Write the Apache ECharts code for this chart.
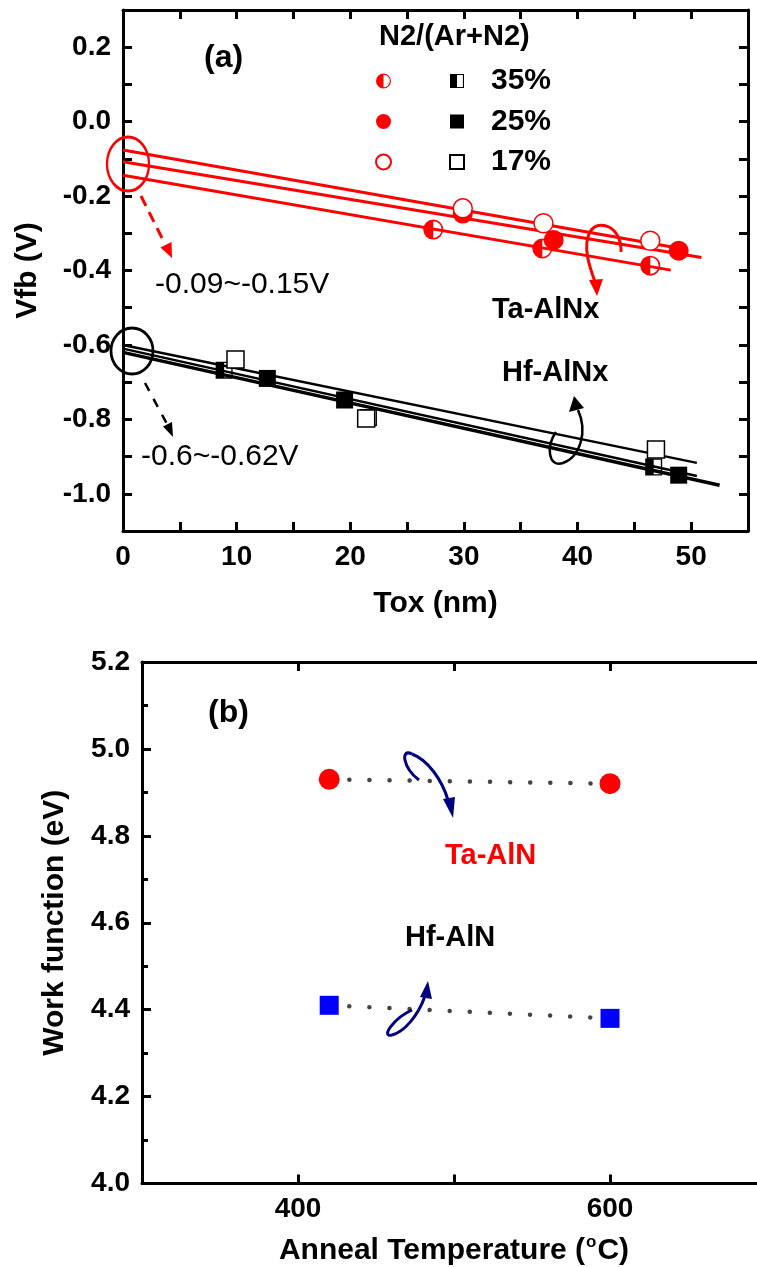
<!DOCTYPE html>
<html><head><meta charset="utf-8">
<script src="https://cdn.jsdelivr.net/npm/echarts@6/dist/echarts.min.js"></script>
<style>html,body{margin:0;padding:0;background:#fff;overflow:hidden;width:757px;height:1267px}#c{width:770px;height:1267px}</style>
</head><body><div id="c"></div>
<script>
// ---------- Panel (a): Vfb vs Tox ----------
const taX35 = [27.3, 36.9, 46.4];  const taY35 = [-0.290, -0.341, -0.387];
const taX25 = [29.9, 37.9, 48.9];  const taY25 = [-0.247, -0.318, -0.347];
const taX17 = [29.9, 37.0, 46.4];  const taY17 = [-0.233, -0.273, -0.320];
const hfX35 = [8.9, 21.6, 46.7];   const hfY35 = [-0.668, -0.795, -0.928];
const hfX25 = [12.7, 19.5, 48.9];  const hfY25 = [-0.690, -0.748, -0.950];
const hfX17 = [9.9, 21.4, 46.9];   const hfY17 = [-0.639, -0.798, -0.881];
// linear fits: [x, y] end points
const fitTa17 = [[0, -0.076], [48.2, -0.336]];
const fitTa25 = [[0, -0.108], [50.9, -0.365]];
const fitTa35 = [[0, -0.144], [48.2, -0.399]];
const fitHf17 = [[0, -0.600], [50.5, -0.917]];
const fitHf25 = [[0, -0.620], [52.5, -0.977]];
const fitHf35 = [[0, -0.610], [50.5, -0.952]];
const ratioLabels = ['35%', '25%', '17%'];
// ---------- Panel (b): work function vs anneal temperature ----------
const annealT = [420, 600];
const wfTa = [4.93, 4.92];
const wfHf = [4.41, 4.38];

const pairs = (xs, ys) => xs.map((x, i) => [x, ys[i]]);
const RED = '#ff0000', BLK = '#000000', NAVY = '#000080';
const FONT = '"Liberation Sans", Arial, sans-serif';
const halfCircle = 'path://M0 -10 A10 10 0 0 0 0 10 Z M0 -10 A10 10 0 0 1 0 10 L0 8.4 A8.4 8.4 0 0 0 0 -8.4 Z';
const halfSquare = 'path://M-10 -10 L0 -10 L0 10 L-10 10 Z M0 -10 L10 -10 L10 10 L0 10 L0 8.4 L8.4 8.4 L8.4 -8.4 L0 -8.4 Z';

const chart = echarts.init(document.getElementById('c'), null, {renderer: 'canvas'});

function axis(o) {
  const showLabel = o.labels !== false;
  return Object.assign({
    type: 'value', scale: false,
    splitLine: {show: false},
    axisLine: {show: true, onZero: false, lineStyle: {color: '#000', width: 3}},
    axisTick: {show: true, inside: true, length: 9, lineStyle: {color: '#000', width: 3}},
    axisLabel: {show: showLabel, color: '#000', fontSize: 28, fontWeight: 'bold', fontFamily: FONT, margin: 12, formatter: o.fmt},
  }, o.extra || {});
}
const fmtA_y = v => (Math.abs(Math.round(v * 10)) % 2 === 0) ? (Math.abs(v) < 1e-9 ? '0.0' : v.toFixed(1)) : '';
const fmtA_x = v => (Math.round(v) % 10 === 0) ? String(Math.round(v)) : '';
const fmtB_x = v => (v === 400 || v === 600) ? String(v) : '';
const fmtB_y = v => v.toFixed(1);

const xAxes = [
  axis({fmt: fmtA_x, extra: {gridIndex: 0, position: 'bottom', min: 0, max: 55, interval: 5,
    name: 'Tox (nm)', nameLocation: 'middle', nameGap: 58,
    nameTextStyle: {fontSize: 30, fontWeight: 'bold', fontFamily: FONT, color: '#000'}}}),
  axis({labels: false, extra: {gridIndex: 0, position: 'top', min: 0, max: 55, interval: 5}}),
  axis({fmt: fmtB_x, extra: {gridIndex: 1, position: 'bottom', min: 300, max: 700, interval: 100,
    name: 'Anneal Temperature ({s|o}C)', nameLocation: 'middle', nameGap: 50,
    nameTextStyle: {fontSize: 30, fontWeight: 'bold', fontFamily: FONT, color: '#000',
      rich: {s: {fontSize: 17, fontWeight: 'bold', fontFamily: FONT, color: '#000', verticalAlign: 'top', padding: [0, 1, 18, 1]}}}}}),
  axis({labels: false, extra: {gridIndex: 1, position: 'top', min: 300, max: 700, interval: 100}}),
];
const yAxes = [
  axis({fmt: fmtA_y, extra: {gridIndex: 0, position: 'left', min: -1.1, max: 0.3, interval: 0.1,
    name: 'Vfb (V)', nameLocation: 'middle', nameGap: 80, nameRotate: 90,
    nameTextStyle: {fontSize: 30, fontWeight: 'bold', fontFamily: FONT, color: '#000'}}}),
  axis({labels: false, extra: {gridIndex: 0, position: 'right', min: -1.1, max: 0.3, interval: 0.1}}),
  axis({fmt: fmtB_y, extra: {gridIndex: 1, position: 'left', min: 4.0, max: 5.2, interval: 0.2,
    minorTick: {show: true, splitNumber: 2, length: 6, lineStyle: {color: '#000', width: 3}},
    name: 'Work function (eV)', nameLocation: 'middle', nameGap: 72, nameRotate: 90,
    nameTextStyle: {fontSize: 30, fontWeight: 'bold', fontFamily: FONT, color: '#000'}}}),
  axis({labels: false, extra: {gridIndex: 1, position: 'right', min: 4.0, max: 5.2, interval: 0.2,
    minorTick: {show: true, splitNumber: 2, length: 6, lineStyle: {color: '#000', width: 3}}}}),
];

function fitLine(name, data, color, width) {
  return {type: 'line', name, data, xAxisIndex: 0, yAxisIndex: 0, symbol: 'none', silent: true, z: 2,
    lineStyle: {color, width, opacity: 1}, animation: false};
}
function scat(name, data, symbol, size, itemStyle) {
  return {type: 'scatter', name, data, xAxisIndex: 0, yAxisIndex: 0, symbol, symbolSize: size, z: 5,
    itemStyle: Object.assign({opacity: 1}, itemStyle), animation: false};
}

const series = [
  fitLine('fTa17', fitTa17, RED, 3),
  fitLine('fTa25', fitTa25, RED, 3),
  fitLine('fTa35', fitTa35, RED, 3),
  fitLine('fHf17', fitHf17, BLK, 2.5),
  fitLine('fHf25', fitHf25, BLK, 3.5),
  fitLine('fHf35', fitHf35, BLK, 2.5),
  scat('Ta35', pairs(taX35, taY35), halfCircle, 20, {color: RED}),
  scat('Ta25', pairs(taX25, taY25), 'circle', 20, {color: RED}),
  scat('Ta17', pairs(taX17, taY17), 'circle', 19, {color: '#fff', borderColor: RED, borderWidth: 1.5}),
  scat(ratioLabels[0], pairs(hfX35, hfY35), halfSquare, 17, {color: BLK}),
  scat(ratioLabels[1], pairs(hfX25, hfY25), 'rect', 17, {color: BLK}),
  scat(ratioLabels[2], pairs(hfX17, hfY17), 'rect', 17, {color: '#fff', borderColor: BLK, borderWidth: 1.5}),
  {type: 'line', name: 'Ta-AlN', xAxisIndex: 2, yAxisIndex: 2, data: pairs(annealT, wfTa),
    symbol: 'circle', symbolSize: 21, itemStyle: {color: RED, opacity: 1}, z: 3, animation: false,
    lineStyle: {color: '#444', width: 4.5, type: [0.1, 20], cap: 'round'}},
  {type: 'line', name: 'Hf-AlN', xAxisIndex: 2, yAxisIndex: 2, data: pairs(annealT, wfHf),
    symbol: 'rect', symbolSize: 19, itemStyle: {color: '#0000ff', opacity: 1}, z: 3, animation: false,
    lineStyle: {color: '#444', width: 4.5, type: [0.1, 20], cap: 'round'}},
];

const legendText = {fontSize: 30, fontWeight: 'bold', fontFamily: FONT, color: '#000', lineHeight: 30};
const legends = [
  {data: ['Ta35', 'Ta25', 'Ta17'], orient: 'vertical', left: 370, top: 61, itemWidth: 15, itemHeight: 15,
    itemGap: 10.5, selectedMode: false, formatter: () => ' ', textStyle: legendText},
  {data: ratioLabels, orient: 'vertical', left: 444, top: 61, itemWidth: 14, itemHeight: 14,
    itemGap: 10.5, selectedMode: false, textStyle: Object.assign({padding: [0, 0, 0, 22]}, legendText)},
];

function txt(text, x, y, font, fill, align) {
  return {type: 'text', x, y, z: 50, silent: true,
    style: {text, font, fill: fill || '#000', align: align || 'left', verticalAlign: 'middle',
      textAlign: align || 'left', textVerticalAlign: 'middle'}};
}
function bez(p, color, w) {
  return {type: 'bezierCurve', z: 40, silent: true,
    shape: {x1: p[0], y1: p[1], cpx1: p[2], cpy1: p[3], cpx2: p[4], cpy2: p[5], x2: p[6], y2: p[7]},
    style: {stroke: color, lineWidth: w, fill: null}};
}
function head(pts, color) {
  return {type: 'polygon', z: 41, silent: true, shape: {points: pts}, style: {fill: color}};
}
function ell(cx, cy, rx, ry, color) {
  return {type: 'circle', z: 40, silent: true, x: cx, y: cy, scaleX: rx / ry, scaleY: 1,
    shape: {cx: 0, cy: 0, r: ry}, style: {stroke: color, lineWidth: 3, fill: null, strokeNoScale: true}};
}
const B = 'bold ';
const graphics = [
  txt('(a)', 204, 58, B + '32px ' + FONT),
  txt('N2/(Ar+N2)', 379, 37, B + '29px ' + FONT),
  txt('-0.09~-0.15V', 155, 285, '30px ' + FONT),
  txt('-0.6~-0.62V', 141, 457, '30px ' + FONT),
  txt('Ta-AlNx', 492, 310, B + '29px ' + FONT),
  txt('Hf-AlNx', 502, 373, B + '29px ' + FONT),
  ell(128, 164, 21, 27, RED),
  ell(132, 351, 21, 23, BLK),
  {type: 'line', z: 40, silent: true, shape: {x1: 141, y1: 196, x2: 165, y2: 244},
    style: {stroke: RED, lineWidth: 3, lineDash: [11, 7]}},
  head([[172, 258], [160.5, 247.5], [171.5, 242]], RED),
  {type: 'line', z: 40, silent: true, shape: {x1: 145, y1: 383, x2: 167, y2: 424},
    style: {stroke: BLK, lineWidth: 2.5, lineDash: [9, 9]}},
  head([[173, 437], [163, 426.5], [172, 422]], BLK),
  bez([621, 252, 622, 226, 598, 218, 590, 232], RED, 3),
  bez([590, 232, 582, 246, 590, 268, 595, 282], RED, 3),
  head([[597, 296], [589, 280], [603, 279]], RED),
  bez([556, 432, 546, 446, 548, 468, 563, 463], BLK, 2.5),
  bez([563, 463, 580, 457, 588, 432, 578, 410], BLK, 2.5),
  head([[574, 396], [569, 412], [584, 408]], BLK),
  // panel (b)
  txt('(b)', 208, 713, B + '32px ' + FONT),
  txt('Ta-AlN', 445, 856, B + '29px ' + FONT, RED),
  txt('Hf-AlN', 405, 938, B + '29px ' + FONT),
  bez([419, 780, 403, 768, 400, 748, 412, 754], NAVY, 3),
  bez([412, 754, 428, 760, 442, 780, 448, 800], NAVY, 3),
  head([[453, 818], [443, 799], [455, 797]], NAVY),
  bez([412, 1010, 394, 1018, 380, 1038, 392, 1035], NAVY, 3),
  bez([392, 1035, 404, 1032, 418, 1016, 425, 996], NAVY, 3),
  head([[428, 981], [420, 997], [432, 999]], NAVY),
];

chart.setOption({
  animation: false,
  backgroundColor: '#fff',
  grid: [
    {left: 123, top: 10, width: 625, height: 521},
    {left: 142, top: 662, width: 624, height: 522},
  ],
  xAxis: xAxes,
  yAxis: yAxes,
  legend: legends,
  series,
  graphic: graphics,
});
</script></body></html>
